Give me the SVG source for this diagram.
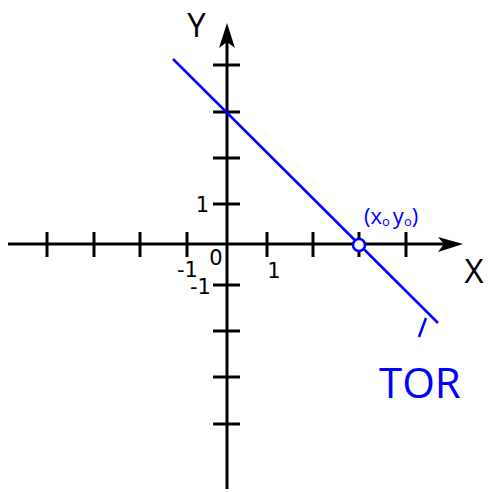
<svg xmlns="http://www.w3.org/2000/svg" width="488" height="492" viewBox="0 0 488 492">
<style>
.ax{stroke:#000;stroke-width:3;fill:none}
.tk{stroke:#000;stroke-width:3}
.num{font-family:"DejaVu Sans",Verdana,sans-serif;font-size:21px;fill:#000}
.lbl{font-family:"Open Sans","Liberation Sans",sans-serif;font-size:33px;fill:#000}
.blue{stroke:#0000ff;stroke-width:2.5;fill:none}
.btxt{font-family:"Open Sans","Liberation Sans",sans-serif;fill:#0000ff}
</style>
<rect width="488" height="492" fill="#fff"/>
<g id="connectors">
<line class="ax" x1="8" y1="244" x2="450" y2="244"/>
<line class="ax" x1="227" y1="36" x2="227" y2="489"/>
<polygon points="463,244 438,237 444,244 438,252" fill="#000"/>
<polygon points="227,23 219,48 227,42 235,48" fill="#000"/>
</g>
<g id="ticks">
<line class="tk" x1="47" y1="232" x2="47" y2="257"/>
<line class="tk" x1="94" y1="232" x2="94" y2="257"/>
<line class="tk" x1="140" y1="232" x2="140" y2="257"/>
<line class="tk" x1="187" y1="232" x2="187" y2="257"/>
<line class="tk" x1="267" y1="232" x2="267" y2="257"/>
<line class="tk" x1="313" y1="232" x2="313" y2="257"/>
<line class="tk" x1="359" y1="232" x2="359" y2="257"/>
<line class="tk" x1="406" y1="232" x2="406" y2="257"/>
<line class="tk" x1="213" y1="65" x2="240" y2="65"/>
<line class="tk" x1="213" y1="112" x2="240" y2="112"/>
<line class="tk" x1="213" y1="158" x2="240" y2="158"/>
<line class="tk" x1="213" y1="204" x2="240" y2="204"/>
<line class="tk" x1="213" y1="285" x2="240" y2="285"/>
<line class="tk" x1="213" y1="331" x2="240" y2="331"/>
<line class="tk" x1="213" y1="377" x2="240" y2="377"/>
<line class="tk" x1="213" y1="424" x2="240" y2="424"/>
</g>
<g id="labels">
<text class="lbl" x="196.5" y="37" text-anchor="middle">Y</text>
<text class="lbl" x="474" y="283" text-anchor="middle">X</text>
<text class="num" x="209" y="212" text-anchor="end">1</text>
<text class="num" x="216" y="265" text-anchor="middle" font-size="22">0</text>
<text class="num" x="187.5" y="277" text-anchor="middle">-1</text>
<text class="num" x="200.5" y="294" text-anchor="middle">-1</text>
<text class="num" x="274" y="278" text-anchor="middle">1</text>
</g>
<g id="tor-line">
<line class="blue" x1="173" y1="59" x2="438" y2="323"/>
<line class="blue" x1="426" y1="318" x2="419" y2="337"/>
<circle cx="359" cy="245" r="6" fill="#fff" stroke="#0000ff" stroke-width="2.5"/>
</g>
<g id="point-label">
<text class="btxt" x="364" y="224" font-size="22">(x<tspan font-size="13" dy="2">o</tspan><tspan dy="-2" dx="3">y</tspan><tspan font-size="13" dy="2">o</tspan><tspan dy="-2">)</tspan></text>
</g>
<g id="tor-label">
<text class="btxt" x="379" y="398" font-size="42">TOR</text>
</g>
</svg>
